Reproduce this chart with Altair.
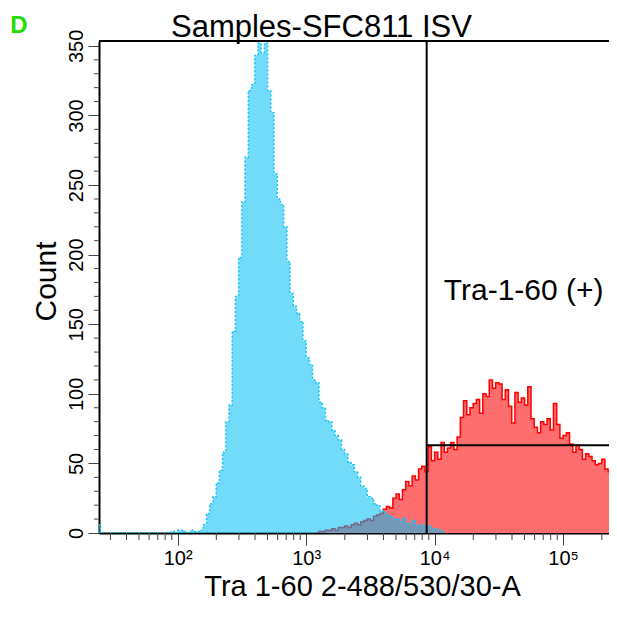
import math
import altair as alt
import pandas as pd

# ---------------- data ----------------
# x values are log10 of fluorescence intensity (left bin edges), y are counts
blue_x = [1.388, 1.400, 1.950, 1.975, 2.000, 2.050, 2.075, 2.100, 2.125,
          2.150, 2.175, 2.200, 2.225, 2.250, 2.275, 2.300, 2.325, 2.350, 2.375,
          2.400, 2.425, 2.450, 2.475, 2.500, 2.525, 2.550, 2.575, 2.600, 2.625,
          2.650, 2.675, 2.700, 2.725, 2.750, 2.775, 2.800, 2.825, 2.850, 2.875,
          2.900, 2.925, 2.950, 2.975, 3.000, 3.025, 3.050, 3.075, 3.100, 3.125,
          3.150, 3.175, 3.200, 3.225, 3.250, 3.275, 3.300, 3.325, 3.350, 3.375,
          3.400, 3.425, 3.450, 3.475, 3.500, 3.525, 3.550, 3.575, 3.600, 3.625,
          3.650, 3.675, 3.700, 3.725, 3.750, 3.775, 3.800, 3.825, 3.850, 3.875,
          3.900, 3.925, 3.950, 3.975, 4.000, 4.025, 4.050, 4.075]
blue_y = [6, 0, 1, 0, 2, 1, 0, 2, 1,
          1, 2, 6, 14, 21, 26, 36, 45, 58, 80,
          92, 145, 170, 198, 238, 270, 318, 322, 343, 352,
          345, 352, 318, 302, 258, 240, 236, 220, 195, 172,
          163, 158, 152, 138, 126, 121, 110, 108, 94, 90,
          81, 80, 74, 70, 67, 60, 57, 51, 49, 44,
          40, 34, 32, 26, 25, 21, 20, 16, 15, 13,
          12, 10, 10, 8, 11, 7, 7, 9, 6, 5,
          6, 4, 5, 3, 3, 2, 1, 0]

red_x = [3.075, 3.100, 3.125, 3.150, 3.175, 3.200, 3.225, 3.250, 3.275,
         3.300, 3.325, 3.350, 3.375, 3.400, 3.425, 3.450, 3.475, 3.500, 3.525,
         3.550, 3.575, 3.600, 3.625, 3.650, 3.675, 3.700, 3.725, 3.750, 3.775,
         3.800, 3.825, 3.850, 3.875, 3.900, 3.925, 3.950, 3.975, 4.000, 4.025,
         4.050, 4.075, 4.100, 4.125, 4.150, 4.175, 4.200, 4.225, 4.250, 4.275,
         4.300, 4.325, 4.350, 4.375, 4.400, 4.425, 4.450, 4.475, 4.500, 4.525,
         4.550, 4.575, 4.600, 4.625, 4.650, 4.675, 4.700, 4.725, 4.750, 4.775,
         4.800, 4.825, 4.850, 4.875, 4.900, 4.925, 4.950, 4.975, 5.000, 5.025,
         5.050, 5.075, 5.100, 5.125, 5.150, 5.175, 5.200, 5.225, 5.250, 5.275,
         5.300, 5.325, 5.350, 5.375, 5.410, 5.4185]
red_y = [0, 1, 1, 2, 2, 3, 2, 4, 4,
         5, 4, 6, 7, 6, 8, 9, 10, 9, 12,
         13, 14, 17, 19, 18, 25, 28, 24, 31, 37,
         34, 41, 38, 46, 48, 44, 62, 52, 58, 53,
         65, 58, 61, 65, 60, 69, 83, 95, 85, 90,
         93, 96, 86, 100, 98, 110, 104, 108, 107, 96,
         103, 91, 79, 101, 94, 97, 92, 105, 82, 76,
         72, 80, 78, 82, 74, 93, 78, 68, 70, 72,
         64, 58, 63, 60, 53, 57, 55, 52, 49, 50,
         53, 46, 44, 51, 214, 214]

# axis ranges (log10 units) and count range (visible part of the plot)
x_min, x_max = 1.388, 5.357
y_max = 353.5
decades = [2, 3, 4, 5]
y_major = list(range(0, 351, 50))
y_minor = [v for v in range(0, 354, 10) if v % 50 != 0]

# gate
gate_x = 3.938
gate_y = 63
gate_label = "Tra-1-60 (+)"
gate_label_x = 4.693
gate_label_y = 174

title_text = "Samples-SFC811 ISV"
panel_letter = "D"
x_title = "Tra 1-60 2-488/530/30-A"
y_title = "Count"

# ---------------- chart ----------------
FONT = "Liberation Sans"
W, H = 510, 492

x_minor = []
for d in range(1, 6):
    for k in range(2, 10):
        v = math.log10(k * 10 ** d)
        if x_min <= v <= x_max:
            x_minor.append(v)

blue = pd.DataFrame({"x": blue_x, "y": blue_y})
red = pd.DataFrame({"x": red_x, "y": red_y})

x_axis = alt.Axis(
    values=decades,
    labelExpr="datum.value == 2 ? '10\u00b2' : datum.value == 3 ? '10\u00b3' : "
              "datum.value == 4 ? '10\u2074' : '10\u2075'",
    labelFontSize=20, labelFont=FONT, labelColor="black",
    labelBaseline="alphabetic", labelPadding=19, labelAlign="center",
    tickSize=12, tickColor="#444", tickWidth=1,
    domainColor="black", domainWidth=2,
    grid=False, labelOverlap=False, labelFlush=False,
    title=x_title, titleFontSize=29, titleFont=FONT, titleFontWeight="normal",
    titleColor="black", titleBaseline="alphabetic", titleY=62, titleX=263,
    titleAlign="center",
)
y_axis = alt.Axis(
    values=y_major,
    labelAngle=270, labelFontSize=20, labelFont=FONT, labelColor="black",
    labelAlign="center", labelBaseline="alphabetic", labelPadding=6,
    tickSize=11, tickColor="#444", tickWidth=1,
    domainColor="black", domainWidth=2,
    grid=False, labelOverlap=False, labelFlush=False,
    title=y_title, titleFontSize=30, titleFont=FONT, titleFontWeight="normal",
    titleColor="black", titleAngle=270, titleX=-44, titleY=240,
    titleAlign="center", titleBaseline="alphabetic",
)

xs = alt.Scale(domain=[x_min, x_max], nice=False, zero=False)
ys = alt.Scale(domain=[0, y_max], nice=False)

X = alt.X("x:Q", scale=xs, axis=x_axis)
Y = alt.Y("y:Q", scale=ys, axis=y_axis)

red_area = alt.Chart(red).mark_area(
    interpolate="step-after", color="#ff6e6e", clip=True
).encode(x=X, y=Y)
red_line = alt.Chart(red).mark_line(
    interpolate="step-after", color="#ff0000", strokeWidth=1.5, clip=True
).encode(x="x:Q", y="y:Q")
blue_area = alt.Chart(blue).mark_area(
    interpolate="step-after", color="#00bef5", opacity=0.55, clip=True
).encode(x="x:Q", y="y:Q")
blue_line = alt.Chart(blue).mark_line(
    interpolate="step-after", color="#19c3f2", strokeWidth=1.5,
    strokeDash=[2, 2], clip=True
).encode(x="x:Q", y="y:Q")

# minor ticks of the log axis and of the count axis
x_minor_ticks = alt.Chart(pd.DataFrame({"x": x_minor})).mark_rule(
    color="#444", strokeWidth=1
).encode(x="x:Q", y=alt.value(H), y2=alt.value(H + 7))
y_minor_ticks = alt.Chart(pd.DataFrame({"y": y_minor})).mark_rule(
    color="#444", strokeWidth=1
).encode(y="y:Q", x=alt.value(-5), x2=alt.value(0))

gate_v = alt.Chart(pd.DataFrame({"x": [gate_x], "y": [0], "y2": [y_max]})).mark_rule(
    color="black", strokeWidth=2
).encode(x="x:Q", y="y:Q", y2="y2:Q")
gate_h = alt.Chart(pd.DataFrame({"x": [gate_x], "x2": [x_max], "y": [gate_y]})).mark_rule(
    color="black", strokeWidth=2
).encode(x="x:Q", x2="x2:Q", y="y:Q")
top_border = alt.Chart(pd.DataFrame({"x": [x_min], "x2": [x_max], "y": [y_max]})).mark_rule(
    color="black", strokeWidth=2
).encode(x="x:Q", x2="x2:Q", y="y:Q")

gate_text = alt.Chart(pd.DataFrame({"x": [gate_label_x], "y": [gate_label_y], "t": [gate_label]})).mark_text(
    font=FONT, fontSize=30, color="black", align="center", baseline="middle"
).encode(x="x:Q", y="y:Q", text="t:N")

title_mark = alt.Chart(pd.DataFrame({"t": [title_text]})).mark_text(
    font=FONT, fontSize=31, color="black", align="left", baseline="alphabetic"
).encode(x=alt.value(72), y=alt.value(-4), text="t:N")
letter_mark = alt.Chart(pd.DataFrame({"t": [panel_letter]})).mark_text(
    font=FONT, fontSize=24, fontWeight="bold", color="#22dd00", align="center",
    baseline="alphabetic"
).encode(x=alt.value(-80), y=alt.value(-8), text="t:N")

chart = alt.layer(
    red_area, red_line, blue_area, blue_line,
    x_minor_ticks, y_minor_ticks,
    gate_v, gate_h, top_border, gate_text, title_mark, letter_mark
).properties(
    width=W, height=H,
    autosize=alt.AutoSizeParams(type="none"),
    padding={"left": 91, "top": 33, "right": 0, "bottom": 70},
).configure_view(strokeWidth=0).configure_text(font=FONT)

chart.save("out.html", embed_options={"renderer": "svg", "actions": False})
